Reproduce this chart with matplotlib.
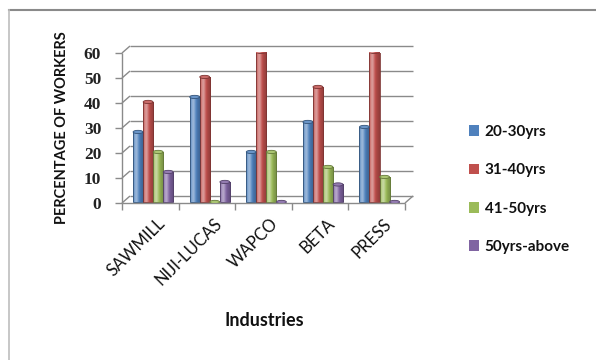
import numpy as np
import matplotlib
matplotlib.use("Agg")
import matplotlib.pyplot as plt
from matplotlib.colors import to_rgb
from matplotlib.patches import Ellipse, Rectangle
from matplotlib.lines import Line2D

# Age distribution of workers per industry (percent)
industries = ["SAWMILL", "NIJI-LUCAS", "WAPCO", "BETA", "PRESS"]
age_groups = ["20-30yrs", "31-40yrs", "41-50yrs", "50yrs-above"]
pct_20_30 = [28, 42, 20, 32, 30]
pct_31_40 = [40, 50, 60, 46, 60]
pct_41_50 = [20, 0, 20, 14, 10]
pct_50_up = [12, 8, 0, 7, 0]
y_ticks = [0, 10, 20, 30, 40, 50, 60]

series = [pct_20_30, pct_31_40, pct_41_50, pct_50_up]
colors = ["#4F81BD", "#C0504D", "#9BBB59", "#8064A2"]

W, H = 596, 360
fig = plt.figure(figsize=(W / 100, H / 100), dpi=100)
fig.patch.set_facecolor("white")

# plot area (front plane)
x0, x1, y0, y1 = 122, 405, 203, 53
ax = fig.add_axes([x0 / W, 1 - y0 / H, (x1 - x0) / W, (y0 - y1) / H])
ncat = len(industries)
ymax = 60
ax.set_xlim(0, ncat)
ax.set_ylim(0, ymax)
for s in ax.spines.values():
    s.set_visible(False)
ax.patch.set_alpha(0)

# depth offset of the back wall, converted to data units
px_x = ncat / (x1 - x0)
px_y = ymax / (y0 - y1)
dx, dy = 8 * px_x, 7 * px_y

grid = "#8a8a8a"
kw = dict(color=grid, lw=1.0, clip_on=False, zorder=1, solid_capstyle="butt")
for v in y_ticks:
    ax.plot([dx, ncat + dx], [v + dy, v + dy], **kw)
    ax.plot([0, dx], [v, v + dy], **kw)
ax.plot([0, 0], [0, ymax], **kw)
ax.plot([0, ncat], [0, 0], **kw)
ax.plot([ncat, ncat + dx], [0, dy], **kw)

# ticks
ax.set_yticks(y_ticks)
ax.set_xticks(np.arange(ncat + 1))
ax.set_xticklabels([])
ax.tick_params(axis="y", length=5, color=grid, width=1, pad=10, direction="out")
ax.tick_params(axis="x", length=5, color=grid, width=1, direction="out")
for lab in ax.get_yticklabels():
    lab.set_fontfamily("Liberation Serif")
    lab.set_fontweight("bold")
    lab.set_fontsize(12.5)
    lab.set_color("#222222")

# category labels, rotated
for i, name in enumerate(industries):
    ax.text(i + 0.62, -5.0, name, rotation=45, ha="right", va="top",
            rotation_mode="anchor", fontsize=12, family="Lato", color="#111111")


def shade(c, f):
    r = np.array(to_rgb(c))
    if f >= 0:
        return tuple(r + (1 - r) * f)
    return tuple(r * (1 + f))


# cylinders
bw = 0.178
shift = 0.05
base = dy * 0.15
grad = np.linspace(0, 1, 40)
prof = 0.45 * np.exp(-((grad - 0.3) / 0.22) ** 2) - 0.25 * grad ** 2
for k, (vals, c) in enumerate(zip(series, colors)):
    for i, v in enumerate(vals):
        left = i + 0.5 - 2 * bw + k * bw + shift
        top = base + v
        if v > 0:
            img = np.array([[shade(c, p) for p in prof]])
            im = ax.imshow(img, extent=[left, left + bw, base, top],
                           aspect="auto", zorder=3, interpolation="bilinear")
            rect = Rectangle((left, base), bw, v, facecolor="none",
                             edgecolor=shade(c, -0.35), lw=0.6, zorder=4)
            ax.add_patch(rect)
            im.set_clip_path(rect)
        cap = Ellipse((left + bw / 2, top), bw * 0.98, 1.3,
                      facecolor=shade(c, 0.15), edgecolor=shade(c, -0.35),
                      lw=0.6, zorder=5)
        ax.add_patch(cap)

ax.set_xlim(0, ncat)
ax.set_ylim(0, ymax)

fig.text(62 / W, 1 - 128 / H, "PERCENTAGE OF WORKERS", rotation=90,
         ha="center", va="center", fontsize=10.5, fontweight="bold",
         family="Lato", color="#111111")
fig.text(264 / W, 1 - 321 / H, "Industries", ha="center", va="center",
         fontsize=13, fontweight="bold", family="Lato", color="#111111")

# legend
handles = [Rectangle((0, 0), 1, 1, facecolor=c, edgecolor="none") for c in colors]
leg = fig.legend(handles, age_groups, loc="upper left",
                 bbox_to_anchor=(455 / W, 1 - 111 / H), frameon=False,
                 prop={"family": "Lato", "size": 11, "weight": "bold"},
                 handlelength=0.7, handleheight=0.7, handletextpad=0.35,
                 labelspacing=1.6)
for t in leg.get_texts():
    t.set_color("#111111")

# chart frame (top and left edges)
fig.add_artist(Line2D([9 / W, 1], [1 - 10 / H, 1 - 10 / H], color="#8a8a8a", lw=1.5))
fig.add_artist(Line2D([9 / W, 9 / W], [1 - 10 / H, 0], color="#bdbdbd", lw=1.2))

fig.savefig("out.png", dpi=100)
